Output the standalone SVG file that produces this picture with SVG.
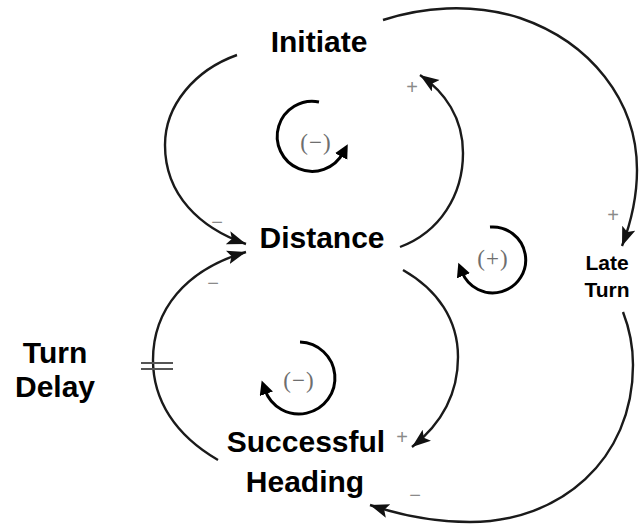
<svg xmlns="http://www.w3.org/2000/svg" width="641" height="527" viewBox="0 0 641 527">
<defs>
<marker id="ah" markerUnits="userSpaceOnUse" markerWidth="22" markerHeight="16" refX="19" refY="7" orient="auto"><path d="M0,0 L19,7 L0,14 L4,7 Z" fill="#111"/></marker>
<marker id="lh" markerUnits="userSpaceOnUse" markerWidth="16" markerHeight="16" refX="4" refY="7" orient="auto"><path d="M0,0 L14,7 L0,14 Z" fill="#000"/></marker>
<style>
.lbl{font-family:"Liberation Sans",Arial,sans-serif;font-weight:bold;fill:#000;text-anchor:middle}
.big{font-size:30px}
.sm{font-size:21px}
.cn{fill:none;stroke:#1a1a1a;stroke-width:2.4}
.pol{font-family:"Liberation Sans",Arial,sans-serif;font-size:20px;fill:#8a8a8a;text-anchor:middle}
.loop{fill:none;stroke:#000;stroke-width:3}
.lt{font-family:"Liberation Serif","Times New Roman",serif;font-size:23px;fill:#6e6e6e;text-anchor:middle;letter-spacing:1px}
</style>
</defs>
<rect width="641" height="527" fill="#fff"/>
<g id="connectors">
<path class="cn" d="M237,55 C195,70 165,105 165,145 C165,195 200,228 246,244" marker-end="url(#ah)"/>
<path class="cn" d="M400,247 C440,232 463,195 463,153 C463,118 445,92 420,75" marker-end="url(#ah)"/>
<path class="cn" d="M383,20 C420,8 470,2 520,18 C590,42 637,100 637,170 C637,200 630,225 622,246" marker-end="url(#ah)"/>
<path class="cn" d="M403,270 C438,290 458,320 458,357 C458,395 440,425 412,447" marker-end="url(#ah)"/>
<path class="cn" d="M623,312 C630,330 633,345 633,365 C633,460 560,522 470,522 C435,522 400,515 370,505" marker-end="url(#ah)"/>
<path class="cn" d="M218,460 C175,435 153,400 153,360 C153,310 185,270 246,252" marker-end="url(#ah)"/>
<path d="M141,363 H173 M141,369 H173" stroke="#555" stroke-width="2"/>
<text class="pol" x="217" y="229">−</text>
<text class="pol" x="412" y="94">+</text>
<text class="pol" x="613" y="222">+</text>
<text class="pol" x="213" y="290">−</text>
<text class="pol" x="402" y="444">+</text>
<text class="pol" x="415" y="502">−</text>
</g>
<g id="loop-top">
<path class="loop" d="M319,102 A35,35 0 1 0 343,153" marker-end="url(#lh)"/>
<text class="lt" x="316" y="150">(−)</text>
</g>
<g id="loop-mid">
<path class="loop" d="M490,227 A33,33 0 1 1 462,272" marker-end="url(#lh)"/>
<text class="lt" x="493" y="266">(+)</text>
</g>
<g id="loop-bot">
<path class="loop" d="M300,342 A36,36 0 1 1 265,390" marker-end="url(#lh)"/>
<text class="lt" x="299" y="388">(−)</text>
</g>
<g id="initiate"><text class="lbl big" x="319" y="52">Initiate</text></g>
<g id="distance"><text class="lbl big" x="322" y="248">Distance</text></g>
<g id="late-turn"><text class="lbl sm" x="607" y="270">Late</text><text class="lbl sm" x="607" y="297">Turn</text></g>
<g id="turn-delay"><text class="lbl big" x="55" y="363">Turn</text><text class="lbl big" x="55" y="397">Delay</text></g>
<g id="successful-heading"><text class="lbl big" x="306" y="452">Successful</text><text class="lbl big" x="305" y="492">Heading</text></g>
</svg>
